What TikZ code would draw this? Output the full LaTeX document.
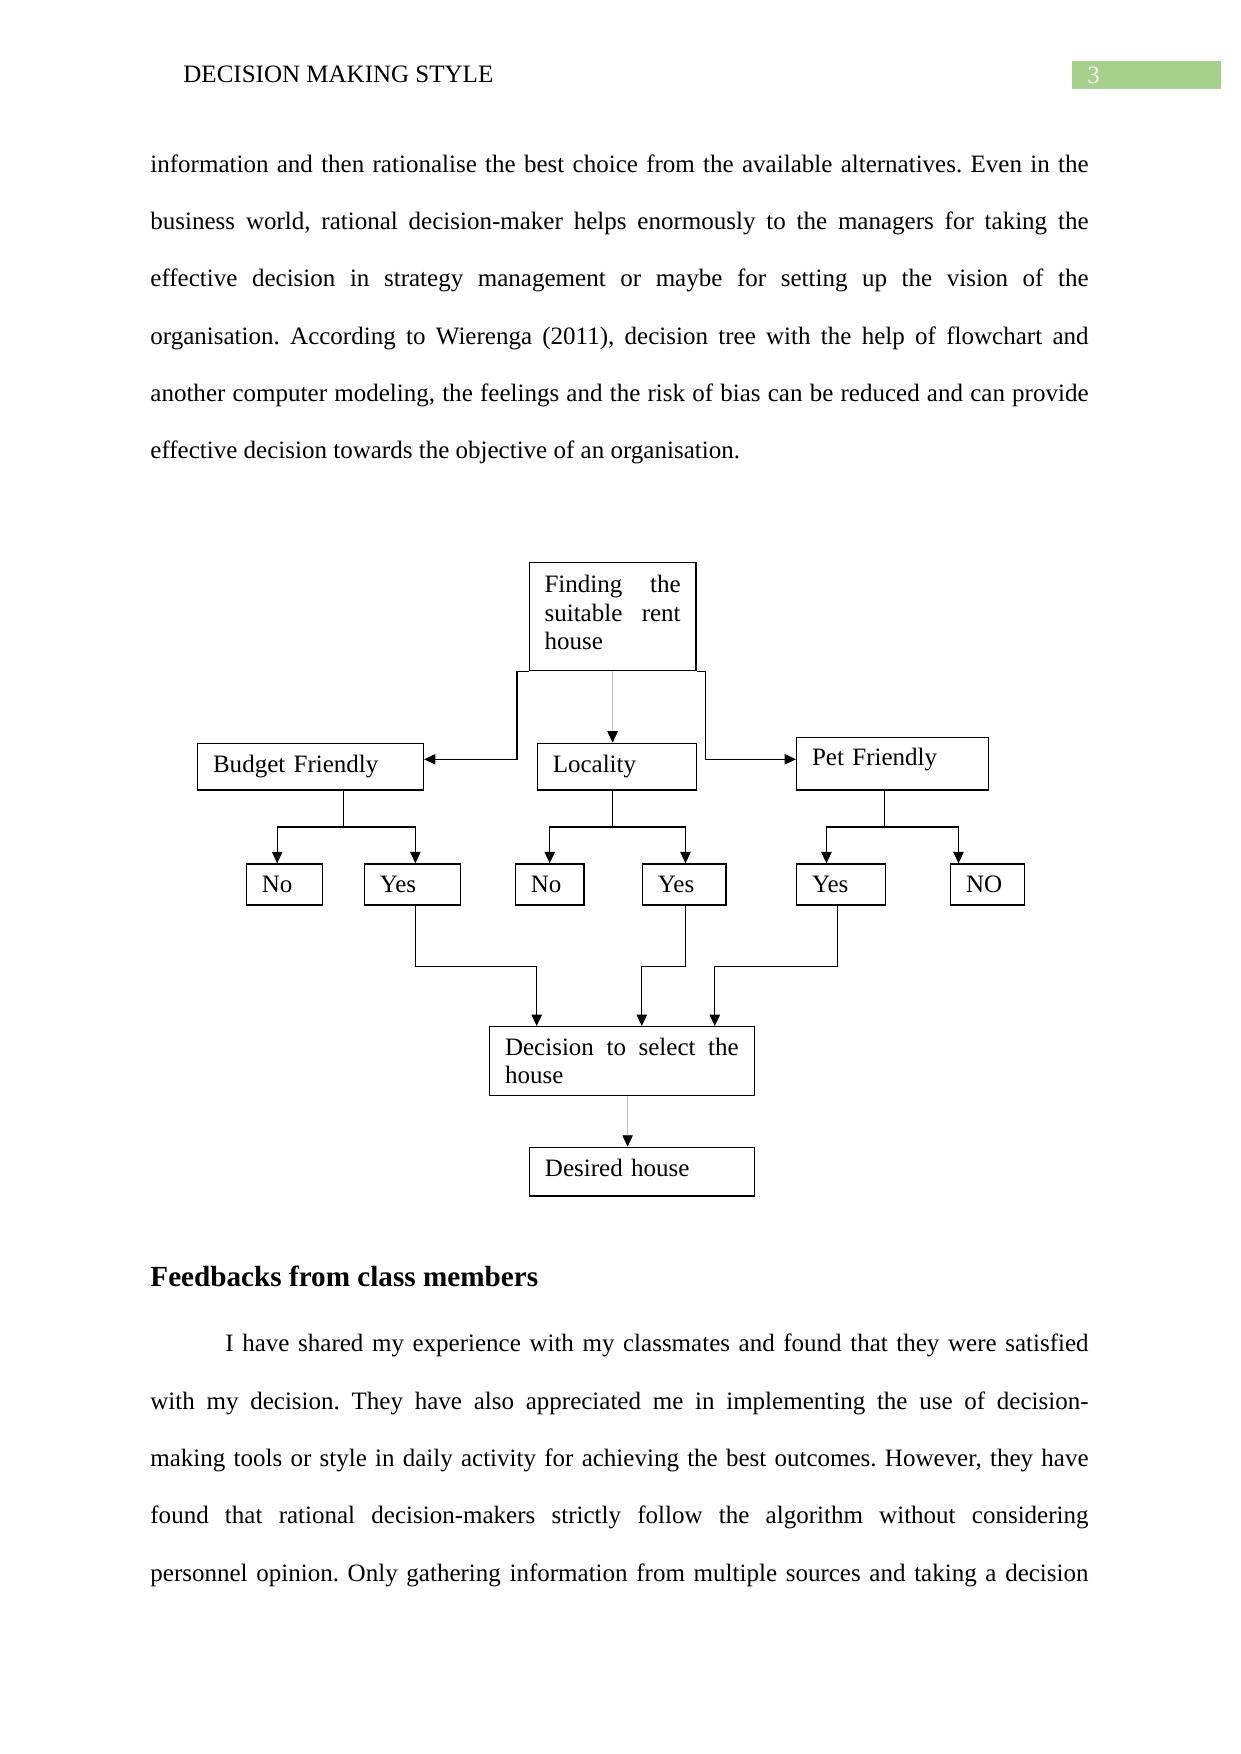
\documentclass[tikz,border=0pt]{standalone}
\usepackage{fontspec}
\setmainfont{Liberation Serif}
\usepackage{tikz}
\usetikzlibrary{positioning,arrows.meta,calc}
\usepackage{xcolor}
\definecolor{headgreen}{RGB}{168,208,141}
\definecolor{pagenum}{RGB}{238,246,232}
\definecolor{faintgray}{RGB}{190,190,190}
\tolerance=10000
\hyphenpenalty=10000
\frenchspacing

\begin{document}
\begin{tikzpicture}[x=0.47968pt,y=-0.47968pt,
  box/.style={draw,line width=0.6pt,anchor=north west,inner xsep=7.4pt,inner ysep=0pt,align=left,font=\fontsize{12pt}{13.6pt}\selectfont},
  link/.style={line width=0.6pt,-{Triangle[length=5.5pt,width=5pt]}},
  faint/.style={draw=faintgray,line width=0.4pt,-{Triangle[length=5.5pt,width=5pt,color=black]}},
  body/.style={anchor=base west,inner sep=0pt,text width=450pt,align=justify,font=\fontsize{12pt}{27.5pt}\selectfont}]
\useasboundingbox (0,0) rectangle (1241,1754);
\node[anchor=base west,inner sep=0pt,font=\fontsize{12pt}{14pt}\selectfont] (runhead) at (183,82.3) {DECISION MAKING STYLE};
\node[fill=headgreen,text=pagenum,anchor=north west,inner xsep=7.2pt,inner ysep=0pt,text width=57.1pt,minimum height=13.1pt,align=left,font=\fontsize{12pt}{13.6pt}\selectfont] (pagenum) at (1072,61) {3};
\node[body] (para1) at (150,172.3) {information and then rationalise the best choice from the available alternatives. Even in the\linebreak
business world, rational decision-maker helps enormously to the managers for taking the\linebreak
effective decision in strategy management or maybe for setting up the vision of the\linebreak
organisation. According to Wierenga (2011), decision tree with the help of flowchart and\linebreak
another computer modeling, the feelings and the risk of bias can be reduced and can provide\linebreak
effective decision towards the objective of an organisation.};
\node[box,text width=65.3pt,minimum height=51.8pt,text depth=31.2pt,align=justify] (find) at (528.5,562) {Finding the suitable rent house};
\node[box,text width=93.5pt,minimum height=22.35pt] (budget) at (197,742.7) {Budget Friendly};
\node[box,text width=61.5pt,minimum height=22.35pt] (locality) at (536.7,742.7) {Locality};
\node[box,text width=77.3pt,minimum height=25.2pt,text depth=6.4pt] (pet) at (796,736.7) {Pet Friendly};
\node[box,text width=21.8pt,minimum height=19.7pt] (no1) at (245.7,863.3) {No};
\node[box,text width=31.3pt,minimum height=19.7pt] (yes1) at (363.7,863.3) {Yes};
\node[box,text width=18.1pt,minimum height=19.7pt] (no2) at (514.8,863.3) {No};
\node[box,text width=25.3pt,minimum height=19.7pt] (yes2) at (641.8,863.3) {Yes};
\node[box,text width=27.9pt,minimum height=19.7pt] (yes3) at (796,863.3) {Yes};
\node[box,text width=20.6pt,minimum height=19.7pt] (no3) at (950,863.3) {NO};
\node[box,text width=112.1pt,minimum height=33.2pt,align=justify] (decide) at (489,1026) {Decision to select the house};
\node[box,text width=93pt,minimum height=23.3pt,text depth=3.2pt] (desired) at (528.9,1146.7) {Desired house};
\draw[link] (find.south west) -- ++(-11.5,0) |- ($(budget.east)+(0,-7.3)$);
\draw[link] (find.south east) -- ++(8.5,0) |- ($(pet.west)+(0,-4.3)$);
\draw[faint] (find.south) -- (find.south |- locality.north);
\draw[line width=0.6pt] ($(budget.south west)+(146.5,0)$) -- ++(0,36.5) coordinate (bfork);
\draw[link] (bfork) -| ($(no1.north)+(-7.3,0)$);
\draw[link] (bfork) -| ($(yes1.north)+(3,0)$);
\draw[line width=0.6pt] ($(locality.south)+(-4.2,0)$) -- ++(0,36.5) coordinate (lfork);
\draw[link] (lfork) -| (no2.north);
\draw[link] (lfork) -| ($(yes2.north)+(1.3,0)$);
\draw[line width=0.6pt] ($(pet.south)+(-8,0)$) -- ++(0,36.5) coordinate (pfork);
\draw[link] (pfork) -| ($(yes3.north)+(-14.7,0)$);
\draw[link] (pfork) -| ($(no3.north)+(-29,0)$);
\draw[link] ($(yes1.south)+(3,0)$) -- ++(0,61) -| ($(decide.north west)+(47.7,0)$);
\draw[link] ($(yes2.south)+(1.3,0)$) -- ++(0,61) -| ($(decide.north west)+(152.8,0)$);
\draw[link] ($(yes3.south)+(-3.5,0)$) -- ++(0,61) -| ($(decide.north west)+(225.8,0)$);
\draw[faint] ($(decide.south)+(5.7,0)$) coordinate (dlow) -- (dlow |- desired.north);
\node[anchor=base west,inner sep=0pt,font=\fontsize{14pt}{16pt}\selectfont\bfseries] (feedhead) at (150,1286.7) {Feedbacks from class members};
\node[body] (para2) at (150,1351.7) {\hspace*{36pt}I have shared my experience with my classmates and found that they were satisfied\linebreak
with my decision. They have also appreciated me in implementing the use of decision-\linebreak
making tools or style in daily activity for achieving the best outcomes. However, they have\linebreak
found that rational decision-makers strictly follow the algorithm without considering\linebreak
personnel opinion. Only gathering information from multiple sources and taking a decision\parfillskip=0pt\par};
\end{tikzpicture}
\end{document}
